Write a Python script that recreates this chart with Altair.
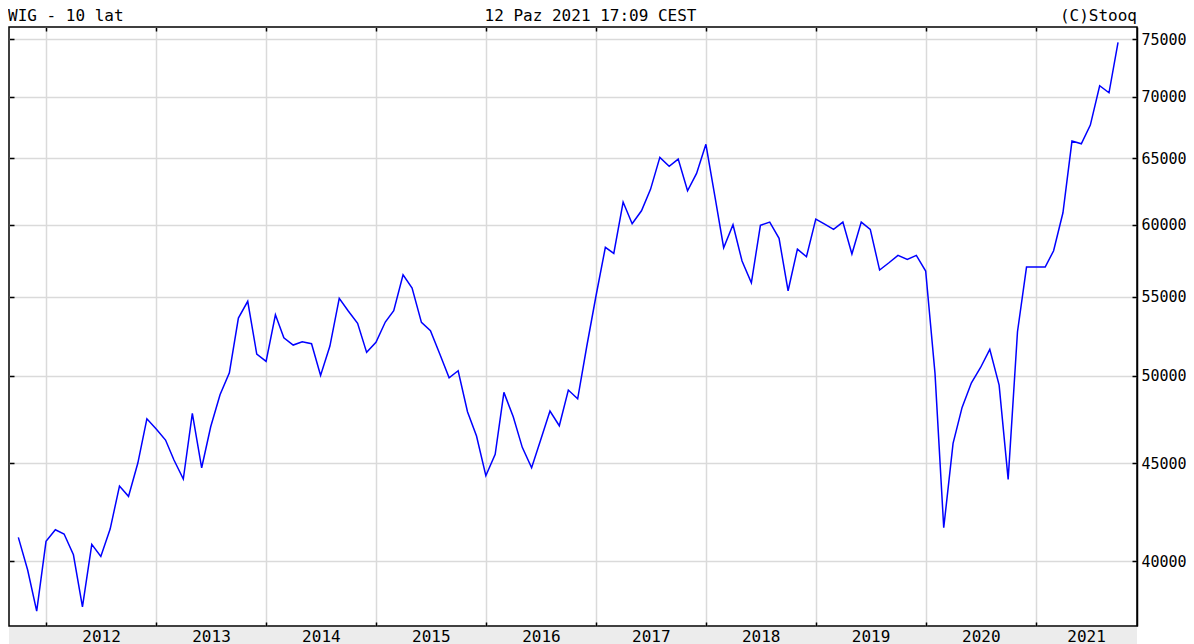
import altair as alt
import pandas as pd

# ---- data (monthly closes) ----
months = [f"{y}-{m:02d}-01" for y in range(2011, 2022) for m in range(1, 13)]
months = [d for d in months if "2011-10-01" <= d <= "2021-10-01"]

wig = [
    41160, 39570, 37662,
    40961, 41537, 41323, 40305, 37857, 40813, 40227, 41572, 43783, 43243, 45013, 47481,
    46895, 46278, 45176, 44154, 47790, 44759, 47025, 48874, 50187, 53606, 54696, 51330,
    50880, 53820, 52348, 51890, 52097, 51971, 50029, 51828, 54894, 54060, 53265, 51435,
    52059, 53349, 54080, 56477, 55579, 53329, 52792, 51330, 49885, 50308, 47883, 46501,
    44330, 45487, 49015, 47595, 45873, 44759, 46278, 47923, 47082, 49151, 48639, 51784,
    55066, 58372, 57952, 61646, 60055, 61003, 62596, 65057, 64355, 64924, 62490, 63814,
    66084, 61921, 58344, 59982, 57417, 55935, 59939, 60178, 59009, 55398, 58252, 57715,
    60396, 60011, 59651, 60178, 57903, 60178, 59651, 56797, 57299, 57812, 57534, 57812,
    56729, 50150, 41638, 46094, 48137, 49585, 50490, 51622, 49448, 44138, 52729, 57003,
    57003, 57003, 58134, 60856, 66346, 66131, 67638, 70918, 70322, 74724,
]

years = list(range(2012, 2022))
y_ticks = [40000, 45000, 50000, 55000, 60000, 65000, 70000, 75000]
title_left = "WIG - 10 lat"
title_center = "12 Paz 2021 17:09 CEST"
title_right = "(C)Stooq"

df = pd.DataFrame({"date": months, "wig": wig})

W, H = 1128, 599
PAD_L, PAD_R = 1, 49          # total width 1178 = window minus body margins
FONT = "DejaVu Sans Mono"
FS = 16
GRID = "#dadada"

xscale = alt.Scale(domain=[alt.DateTime(year=2011, month=8, date=31),
                           alt.DateTime(year=2021, month=12, date=3)])
yscale = alt.Scale(type="log", domain=[36990, 76120], nice=False)

year_starts = [alt.DateTime(year=y, month=1, date=1) for y in years]
year_mids = [alt.DateTime(year=y, month=7, date=2) for y in years[:-1]] + \
            [alt.DateTime(year=years[-1], month=6, date=17)]

# main line with year labels and right value axis
axis_years = alt.Axis(orient="bottom", values=year_mids, format="%Y", ticks=False, tickSize=0,
                      domain=False, grid=False, labelPadding=15.5, labelBaseline="alphabetic",
                      labelFont=FONT, labelFontSize=FS, labelColor="#000000", labelAngle=0,
                      labelOverlap=False, labelFlush=False, title=None, zindex=2)
axis_yright = alt.Axis(orient="right", values=y_ticks, format="d", ticks=False, tickSize=0,
                       domain=True, domainColor="#000000", domainWidth=1.5, grid=True,
                       gridColor=GRID, gridWidth=1.5, labelPadding=4, labelFont=FONT,
                       labelFontSize=15, labelColor="#000000", labelBaseline="middle",
                       labelOverlap=False, labelFlush=False, title=None)

line = alt.Chart(df).mark_line(color="#0000ff", strokeWidth=1.5).encode(
    x=alt.X("date:T", scale=xscale, axis=axis_years),
    y=alt.Y("wig:Q", scale=yscale, axis=axis_yright),
)

# invisible helper layers carrying grid + inward tick axes
axis_xgrid = alt.Axis(orient="bottom", values=year_starts, grid=True, gridColor=GRID, gridWidth=1.5,
                      ticks=False, labels=False, domain=False, title=None)
axis_yticks_r = alt.Axis(orient="right", values=y_ticks, offset=-5, ticks=True, tickSize=5,
                         tickColor="#000000", tickWidth=1.5, labels=False, domain=False,
                         grid=False, title=None)
helper1 = alt.Chart(df).mark_line(strokeOpacity=0).encode(
    x=alt.X("date:T", scale=xscale, axis=axis_xgrid),
    y=alt.Y("wig:Q", scale=yscale, axis=axis_yticks_r),
)

axis_xticks_b = alt.Axis(orient="bottom", values=year_starts, offset=-4, ticks=True, tickSize=4,
                         tickColor="#000000", tickWidth=1.5, labels=False, domain=False,
                         grid=False, title=None)
axis_yticks_l = alt.Axis(orient="left", values=y_ticks, offset=-5, ticks=True, tickSize=5,
                         tickColor="#000000", tickWidth=1.5, labels=False, domain=False,
                         grid=False, title=None)
helper2 = alt.Chart(df).mark_line(strokeOpacity=0).encode(
    x=alt.X("date:T", scale=xscale, axis=axis_xticks_b),
    y=alt.Y("wig:Q", scale=yscale, axis=axis_yticks_l),
)

axis_xticks_t = alt.Axis(orient="top", values=year_starts, offset=-4, ticks=True, tickSize=4,
                         tickColor="#000000", tickWidth=1.5, labels=False, domain=False,
                         grid=False, title=None)
helper3 = alt.Chart(df).mark_line(strokeOpacity=0).encode(
    x=alt.X("date:T", scale=xscale, axis=axis_xticks_t),
    y=alt.Y("wig:Q", scale=yscale, axis=None),
)

# grey band under the plot for the year labels
band = alt.Chart(alt.Data(values=[{"k": 1}])).mark_rect(color="#ececec").encode(
    x=alt.value(0), x2=alt.value(W), y=alt.value(H + 1), y2=alt.value(H + 18)
)

def header(text, xpos, align):
    return alt.Chart(alt.Data(values=[{"t": text}])).mark_text(
        align=align, baseline="alphabetic", font=FONT, fontSize=FS, color="#000000"
    ).encode(text="t:N", x=alt.value(xpos), y=alt.value(-6.5))

t1 = header(title_left, -1, "left")
t2 = header(title_center, 581.5, "center")
t3 = header(title_right, W, "right")

chart = alt.layer(band, helper1, helper2, helper3, line, t1, t2, t3).resolve_axis(
    x="independent", y="independent"
).properties(
    width=W, height=H,
    autosize=alt.AutoSizeParams(type="none"),
    padding={"left": PAD_L, "top": 19, "right": PAD_R, "bottom": 18},
    background="white",
).configure_view(stroke="#000000", strokeWidth=1.5)

chart.save("out.html", embed_options={"renderer": "svg", "actions": False})
